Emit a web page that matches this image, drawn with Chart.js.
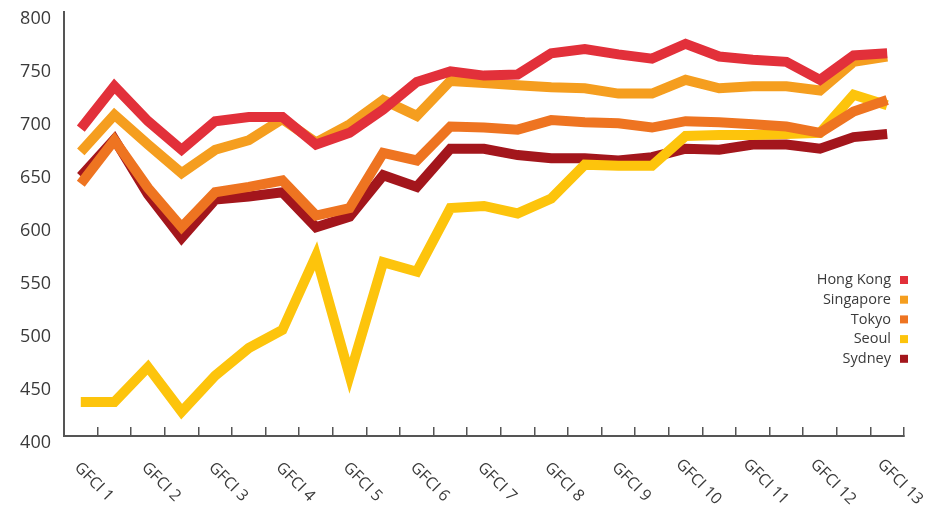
<!DOCTYPE html>
<html>
<head>
<meta charset="utf-8">
<script src="https://cdn.jsdelivr.net/npm/chart.js@4/dist/chart.umd.min.js"></script>
<style>
  html, body { margin: 0; padding: 0; background: #ffffff; }
  #wrap { width: 939px; height: 515px; position: relative; }
</style>
</head>
<body>
<div id="wrap"><canvas id="c" width="939" height="515"></canvas></div>
<script>
// Edition labels on the x axis (one reading between each pair of editions)
const editions = ['GFCI 1', 'GFCI 2', 'GFCI 3', 'GFCI 4', 'GFCI 5', 'GFCI 6', 'GFCI 7',
                  'GFCI 8', 'GFCI 9', 'GFCI 10', 'GFCI 11', 'GFCI 12', 'GFCI 13'];

// Ratings, 25 readings per centre
const hongKong  = [690, 730, 697, 670, 697, 701, 701, 675, 686, 708, 734, 744, 740, 741, 761, 765, 760, 756, 770, 758, 755, 753, 736, 759, 761];
const singapore = [668, 703, 675, 648, 670, 679, 699, 677, 694, 717, 702, 735, 733, 731, 729, 728, 723, 723, 736, 728, 730, 730, 726, 753, 758];
const tokyo     = [638, 679, 634, 597, 630, 635, 641, 608, 615, 667, 660, 692, 691, 689, 698, 696, 695, 691, 697, 696, 694, 692, 686, 706, 717];
const seoul     = [432, 432, 465, 423, 457, 483, 500, 570, 457, 564, 555, 615, 617, 610, 624, 656, 655, 655, 683, 684, 684, 685, 686, 722, 712];
const sydney    = [645, 680, 628, 587, 623, 626, 630, 597, 607, 646, 635, 671, 671, 665, 662, 662, 660, 663, 671, 670, 675, 675, 671, 682, 685];

const yMin = 400, yMax = 800, yStep = 50;

// Category slots: edition names on even slots, blanks in between
const categories = [];
editions.forEach((e, i) => {
  categories.push(e);
  if (i < editions.length - 1) categories.push('');
});

const series = [
  { label: 'Hong Kong', data: hongKong,  color: '#E2303A' },
  { label: 'Singapore', data: singapore, color: '#F59E1F' },
  { label: 'Tokyo',     data: tokyo,     color: '#EE7421' },
  { label: 'Seoul',     data: seoul,     color: '#FDC40C' },
  { label: 'Sydney',    data: sydney,    color: '#A3161C' }
];

const textColor = '#3a3a3a';
const axisColor = '#555555';

// Slanted edition labels under the x axis
const editionLabels = {
  id: 'editionLabels',
  afterDraw(chart) {
    const xs = chart.scales.x;
    const ctx = chart.ctx;
    ctx.save();
    ctx.font = '16px "Open Sans", sans-serif';
    ctx.fillStyle = textColor;
    ctx.textAlign = 'center';
    ctx.textBaseline = 'middle';
    chart.data.labels.forEach((lab, i) => {
      if (!lab) return;
      const x = xs.getPixelForValue(i);
      ctx.save();
      ctx.translate(x + 13, xs.top + 46);
      ctx.rotate(Math.PI / 4);
      ctx.fillText(lab, 0, 0);
      ctx.restore();
    });
    ctx.restore();
  }
};

// Key in the lower right of the plot: name, then a colour square
const seriesKey = {
  id: 'seriesKey',
  afterDraw(chart) {
    const ctx = chart.ctx;
    const right = chart.chartArea.right;
    ctx.save();
    ctx.font = '14.5px "Open Sans", sans-serif';
    ctx.textAlign = 'right';
    ctx.textBaseline = 'middle';
    chart.data.datasets.forEach((ds, i) => {
      const y = 280 + i * 19.7;
      ctx.fillStyle = textColor;
      ctx.fillText(ds.label, right - 13, y);
      ctx.fillStyle = ds.borderColor;
      ctx.fillRect(right - 4, y - 4, 8, 8);
    });
    ctx.restore();
  }
};

new Chart(document.getElementById('c'), {
  type: 'line',
  data: {
    labels: categories,
    datasets: series.map(s => ({
      label: s.label,
      data: s.data,
      borderColor: s.color,
      backgroundColor: s.color,
      borderWidth: 10,
      borderJoinStyle: 'miter',
      borderCapStyle: 'butt',
      pointRadius: 0,
      tension: 0,
      fill: false
    }))
  },
  options: {
    responsive: false,
    animation: false,
    layout: { padding: { top: 12, right: 35, left: 0, bottom: 0 } },
    plugins: {
      legend: { display: false },
      tooltip: { enabled: false }
    },
    scales: {
      x: {
        type: 'category',
        offset: true,
        grid: {
          offset: true,
          drawOnChartArea: false,
          drawTicks: true,
          tickLength: -9,
          color: axisColor,
          lineWidth: 1.5
        },
        border: { display: true, color: axisColor, width: 2 },
        ticks: { display: false, autoSkip: false },
        afterFit(scale) {
          scale.height = 79;
          scale.paddingLeft = 0;
          scale.paddingRight = 0;
        }
      },
      y: {
        min: yMin,
        max: yMax,
        grid: { drawOnChartArea: false, drawTicks: false },
        border: { display: true, color: axisColor, width: 2 },
        ticks: {
          stepSize: yStep,
          color: textColor,
          padding: 13,
          labelOffset: 7,
          font: { family: '"Open Sans", sans-serif', size: 18 }
        },
        afterFit(scale) {
          scale.width = 64;
          scale.paddingTop = 0;
          scale.paddingBottom = 0;
        }
      }
    }
  },
  plugins: [editionLabels, seriesKey]
});
</script>
</body>
</html>
